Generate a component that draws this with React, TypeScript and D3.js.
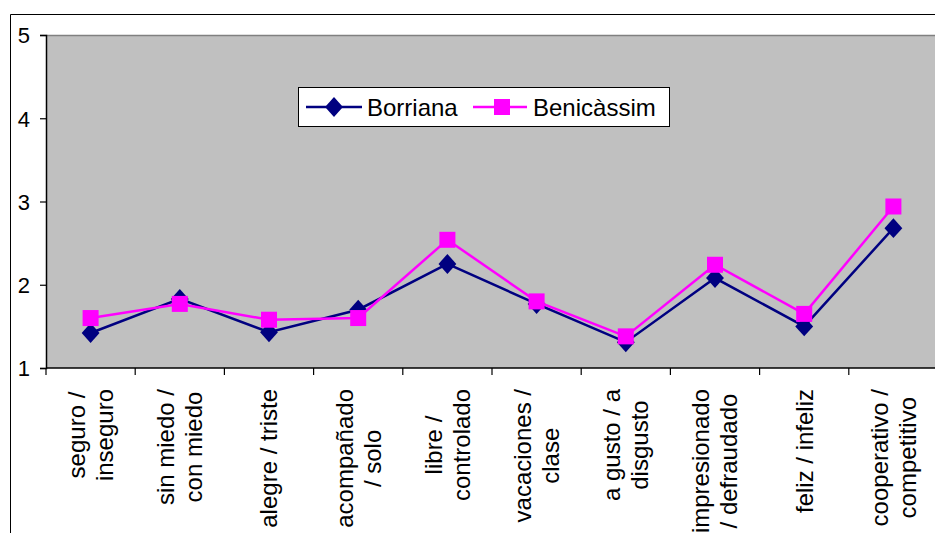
import React, { useEffect, useRef } from "react";
import * as d3 from "d3";

const categories: string[][] = [
  ["seguro /", "inseguro"],
  ["sin miedo /", "con miedo"],
  ["alegre / triste"],
  ["acompañado", "/ solo"],
  ["libre /", "controlado"],
  ["vacaciones /", "clase"],
  ["a gusto / a", "disgusto"],
  ["impresionado", "/ defraudado"],
  ["feliz / infeliz"],
  ["cooperativo /", "competitivo"],
];
const borriana = [1.42, 1.83, 1.43, 1.70, 2.25, 1.77, 1.31, 2.08, 1.50, 2.68];
const benicassim = [1.60, 1.77, 1.58, 1.60, 2.54, 1.80, 1.38, 2.24, 1.65, 2.94];
const yTicks = [1, 2, 3, 4, 5];
const seriesNames = ["Borriana", "Benicàssim"];

const W = 935;
const H = 533;
const FONT = "'Liberation Sans', Arial, sans-serif";

export default function App() {
  const ref = useRef<SVGSVGElement | null>(null);
  useEffect(() => {
    const svg = d3.select(ref.current);
    svg.selectAll("*").remove();

    const left = 46, right = 938, top = 35, bottom = 368;
    const idx = categories.map((_, i) => i);
    const x = d3.scaleBand<number>().domain(idx).range([left, right]);
    const y = d3.scaleLinear().domain([1, 5]).range([bottom, top]);

    svg.append("rect").attr("x", 0).attr("y", 0).attr("width", W).attr("height", H).attr("fill", "#fff");
    // outer chart border
    svg.append("path").attr("d", `M10.5,${H} V14.5 H${W}`).attr("fill", "none").attr("stroke", "#000").attr("stroke-width", 1);

    // plot area
    svg.append("rect").attr("x", left).attr("y", top).attr("width", right - left).attr("height", bottom - top).attr("fill", "#C0C0C0");
    svg.append("line").attr("x1", left).attr("x2", right).attr("y1", top + 0.5).attr("y2", top + 0.5).attr("stroke", "#808080").attr("stroke-width", 1.5);

    // y axis
    const yAxis = svg.append("g").attr("transform", `translate(${left},0)`)
      .call(d3.axisLeft(y).tickValues(yTicks).tickFormat(d3.format("d")).tickSizeOuter(0).tickSize(6).tickPadding(10));
    yAxis.select(".domain").attr("stroke", "#000").attr("stroke-width", 1.5);
    yAxis.selectAll(".tick line").attr("stroke", "#000").attr("stroke-width", 1.2);
    yAxis.selectAll(".tick text").attr("font-family", FONT).attr("font-size", 22).attr("fill", "#000").attr("dy", "0.36em");

    // x axis
    const xAxisG = svg.append("g").attr("transform", `translate(0,${bottom})`);
    xAxisG.append("line").attr("x1", left).attr("x2", right).attr("y1", 0).attr("y2", 0).attr("stroke", "#000").attr("stroke-width", 1.5);
    const bounds = d3.range(categories.length + 1).map((i) => left + i * x.step());
    xAxisG.selectAll("line.tk").data(bounds).enter().append("line").attr("class", "tk")
      .attr("x1", (d) => d).attr("x2", (d) => d).attr("y1", 0).attr("y2", 7).attr("stroke", "#000").attr("stroke-width", 1.2);

    // category labels
    const labTop = 389;
    const fs = 24;
    categories.forEach((lines, i) => {
      const cx = (x(i) as number) + x.bandwidth() / 2;
      const g = svg.append("g");
      const texts = lines.map((ln, j) => {
        const off = (j - (lines.length - 1) / 2) * 28;
        return g.append("text")
          .attr("font-family", FONT).attr("font-size", fs).attr("fill", "#000")
          .attr("text-anchor", "middle").attr("dy", "0.35em").text(ln)
          .attr("data-off", off);
      });
      const maxW = d3.max(texts, (t) => (t.node() as SVGTextElement).getComputedTextLength()) || 0;
      const cy = labTop + maxW / 2;
      texts.forEach((t) => {
        const off = +t.attr("data-off");
        t.attr("transform", `translate(${cx + off},${cy}) rotate(-90)`);
      });
    });

    // series
    const line = d3.line<number>().x((_, i) => (x(i) as number) + x.bandwidth() / 2).y((d) => y(d));
    svg.append("path").datum(borriana).attr("d", line).attr("fill", "none").attr("stroke", "#000080").attr("stroke-width", 2.5);
    const dia = d3.symbol().type(d3.symbolDiamond).size(115);
    svg.selectAll("path.dia").data(borriana).enter().append("path").attr("class", "dia")
      .attr("d", dia).attr("transform", (d, i) => `translate(${(x(i) as number) + x.bandwidth() / 2},${y(d)}) scale(1.55,1)`)
      .attr("fill", "#000080");
    svg.append("path").datum(benicassim).attr("d", line).attr("fill", "none").attr("stroke", "#FF00FF").attr("stroke-width", 2.5);
    svg.selectAll("rect.sq").data(benicassim).enter().append("rect").attr("class", "sq")
      .attr("x", (_, i) => (x(i) as number) + x.bandwidth() / 2 - 8).attr("y", (d) => y(d) - 8)
      .attr("width", 16).attr("height", 16).attr("fill", "#FF00FF");

    // legend
    const lg = svg.append("g");
    lg.append("rect").attr("x", 298.5).attr("y", 87.5).attr("width", 371).attr("height", 39).attr("fill", "#fff").attr("stroke", "#000").attr("stroke-width", 1);
    lg.append("line").attr("x1", 306).attr("x2", 362).attr("y1", 107).attr("y2", 107).attr("stroke", "#000080").attr("stroke-width", 2.5);
    lg.append("path").attr("d", dia).attr("transform", "translate(334,107) scale(1.55,1)").attr("fill", "#000080");
    lg.append("text").attr("x", 367).attr("y", 107).attr("dy", "0.36em").attr("font-family", FONT).attr("font-size", 24).text(seriesNames[0]);
    lg.append("line").attr("x1", 473).attr("x2", 527).attr("y1", 107).attr("y2", 107).attr("stroke", "#FF00FF").attr("stroke-width", 2.5);
    lg.append("rect").attr("x", 494).attr("y", 99).attr("width", 16).attr("height", 16).attr("fill", "#FF00FF");
    lg.append("text").attr("x", 533).attr("y", 107).attr("dy", "0.36em").attr("font-family", FONT).attr("font-size", 24).text(seriesNames[1]);
  }, []);
  return (
    <svg ref={ref} width={W} height={H} style={{ position: "absolute", left: 0, top: 0, display: "block" }} />
  );
}
